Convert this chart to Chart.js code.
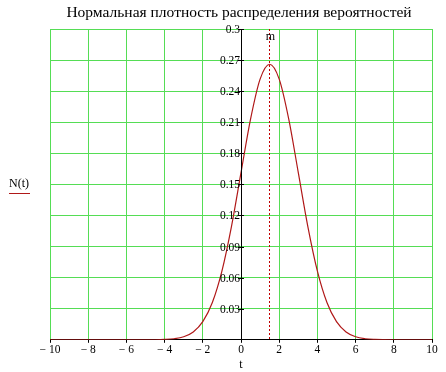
<!DOCTYPE html>
<html>
<head>
<meta charset="utf-8">
<script src="https://cdn.jsdelivr.net/npm/chart.js@4"></script>
<style>
  html, body { margin: 0; padding: 0; background: #fff; }
  #wrap { width: 446px; height: 372px; }
</style>
</head>
<body>
<div id="wrap"><canvas id="myChart" width="446" height="372"></canvas></div>
<script>
//------ donnees
const titre = 'Нормальная плотность распределения вероятностей';
const nomY = 'N(t)';
const nomX = 't';
const moyenne = 1.48;   // position du trait "m"

const tValues = [-10, -9.5, -9, -8.5, -8, -7.5, -7, -6.5, -6, -5.5, -5, -4.5,
  -4, -3.5, -3, -2.5, -2, -1.5, -1, -0.5, 0, 0.5, 1, 1.5, 2, 2.5, 3, 3.5,
  4, 4.5, 5, 5.5, 6, 6.5, 7, 7.5, 8, 8.5, 9, 9.5, 10];
const nValues = [0, 0, 0, 0, 0, 0, 0, 0, 0, 0, 0, 0.00005,
  0.00032, 0.00103, 0.00295, 0.0076, 0.01748, 0.03599, 0.06632, 0.10934, 0.16131, 0.21297, 0.25159, 0.26596, 0.25159, 0.21297, 0.16131, 0.10934,
  0.06632, 0.03599, 0.01748, 0.0076, 0.00295, 0.00103, 0.00032, 0.00009, 0, 0, 0, 0, 0];

const xTicks = [-10, -8, -6, -4, -2, 0, 2, 4, 6, 8, 10];
const yTicks = [0.03, 0.06, 0.09, 0.12, 0.15, 0.18, 0.21, 0.24, 0.27, 0.3];

const vert = '#55dd55';
const rouge = '#b01818';

const points = tValues.map((t, i) => ({ x: t, y: nValues[i] }));

// dessins en plus : titre, axe vertical, etiquettes y, trait m, N(t)
const decor = {
  id: 'decor',
  afterDatasetsDraw(chart) {
    const c = chart.ctx;
    const a = chart.chartArea;
    const sx = chart.scales.x;
    const sy = chart.scales.y;
    c.save();
    // titre
    c.fillStyle = '#000';
    c.font = '15.5px "Liberation Serif"';
    c.textAlign = 'center';
    c.textBaseline = 'middle';
    c.fillText(titre, 239, 13);

    // axe vertical en t = 0
    const x0 = sx.getPixelForValue(0);
    c.strokeStyle = '#000';
    c.lineWidth = 1;
    c.beginPath();
    c.moveTo(x0 + 0.5, a.top);
    c.lineTo(x0 + 0.5, a.bottom);
    c.stroke();

    // etiquettes y
    c.font = '11.5px "Liberation Serif"';
    c.textAlign = 'right';
    c.textBaseline = 'middle';
    yTicks.forEach(v => {
      const y = sy.getPixelForValue(v);
      c.beginPath();
      c.moveTo(x0 - 3, Math.round(y) + 0.5);
      c.lineTo(x0 + 3, Math.round(y) + 0.5);
      c.stroke();
      c.fillText(String(v), x0 - 1, y + 1);
    });

    // trait pointille m
    const xm = Math.round(sx.getPixelForValue(moyenne)) + 0.5;
    c.strokeStyle = '#c00000';
    c.setLineDash([2, 2]);
    c.beginPath();
    c.moveTo(xm, a.top);
    c.lineTo(xm, a.bottom);
    c.stroke();
    c.setLineDash([]);
    c.textAlign = 'center';
    c.font = '12px "Liberation Serif"';
    c.fillText('m', xm + 1, a.top + 8);

    // N(t) avec trait rouge
    c.font = '12px "Liberation Serif"';
    c.textAlign = 'center';
    c.fillStyle = '#000';
    c.fillText(nomY, 19, 184);
    c.strokeStyle = rouge;
    c.beginPath();
    c.moveTo(9, 193.5);
    c.lineTo(30, 193.5);
    c.stroke();
    c.restore();
  }
};

new Chart(document.getElementById('myChart'), {
  type: 'line',
  data: {
    datasets: [{
      data: points,
      borderColor: rouge,
      borderWidth: 1.2,
      pointRadius: 0,
      cubicInterpolationMode: 'monotone',
      fill: false
    }]
  },
  options: {
    responsive: false,
    animation: false,
    layout: { padding: { left: 50, right: 14, top: 29, bottom: 0 } },
    plugins: {
      legend: { display: false },
      title: { display: false },
      tooltip: { enabled: false }
    },
    scales: {
      x: {
        type: 'linear',
        min: -10,
        max: 10,
        afterBuildTicks: s => { s.ticks = xTicks.map(v => ({ value: v })); },
        grid: { color: vert, lineWidth: 1, tickColor: '#000', tickLength: 3 },
        border: { color: '#000' },
        ticks: {
          color: '#000',
          padding: 0,
          font: { family: 'Liberation Serif', size: 11.5 },
          callback: v => (v < 0 ? '− ' + Math.abs(v) : String(v))
        },
        title: {
          display: true,
          text: nomX,
          color: '#000',
          font: { family: 'Liberation Serif', size: 12 },
          padding: { top: 1, bottom: 0 }
        }
      },
      y: {
        min: 0,
        max: 0.3,
        afterBuildTicks: s => { s.ticks = [0].concat(yTicks).map(v => ({ value: v })); },
        grid: { color: vert, lineWidth: 1, drawTicks: false },
        border: { display: false },
        ticks: { display: false }
      }
    }
  },
  plugins: [decor]
});
</script>
</body>
</html>
